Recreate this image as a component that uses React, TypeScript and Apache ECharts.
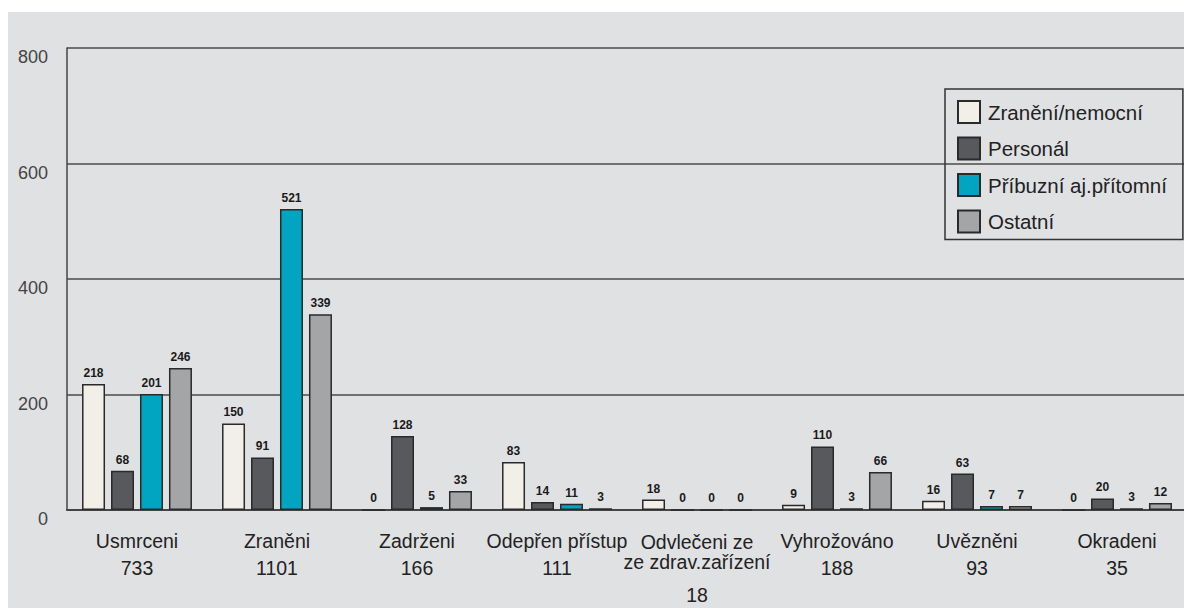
import React, { useEffect, useRef } from "react";
import * as echarts from "echarts";

const categories = [
  "Usmrceni",
  "Zraněni",
  "Zadrženi",
  "Odepřen přístup",
  "Odvlečeni ze\nze zdrav.zařízení",
  "Vyhrožováno",
  "Uvězněni",
  "Okradeni",
];
const totals = [733, 1101, 166, 111, 18, 188, 93, 35];
const seriesNames = ["Zranění/nemocní", "Personál", "Příbuzní aj.přítomní", "Ostatní"];
const zraneniNemocni = [218, 150, 0, 83, 18, 9, 16, 0];
const personal = [68, 91, 128, 14, 0, 110, 63, 20];
const pribuzni = [201, 521, 5, 11, 0, 3, 7, 3];
const ostatni = [246, 339, 33, 3, 0, 66, 7, 12];
const yTicks = [0, 200, 400, 600, 800];

const colors = ["#f1efe7", "#58595c", "#00a6c1", "#a4a5a7"];
const SANS = "'Liberation Sans', Arial, sans-serif";

const labelText = { fontFamily: SANS, fontSize: 19.5, color: "#222" };

export default function App() {
  const ref = useRef<HTMLDivElement>(null);
  useEffect(() => {
    if (!ref.current) return;
    const chart = echarts.init(ref.current, null, { renderer: "svg" });
    const values = [zraneniNemocni, personal, pribuzni, ostatni];
    chart.setOption({
      animation: false,
      backgroundColor: "#e0e1e3",
      grid: { left: 59, right: 1, top: 36, bottom: 98, containLabel: false, outerBoundsMode: "none" },
      legend: {
        orient: "vertical",
        left: 937,
        top: 77,
        padding: [11, 16, 6, 12],
        icon: "rect",
        itemWidth: 22,
        itemHeight: 22,
        itemGap: 12.5,
        borderColor: "#333",
        borderWidth: 1.5,
        selectedMode: false,
        data: seriesNames,
        textStyle: {
          fontFamily: SANS,
          fontSize: 20.5,
          lineHeight: 22,
          color: "#222",
          padding: [0, 0, 0, 3],
        },
      },
      xAxis: {
        type: "category",
        data: categories,
        axisLine: { lineStyle: { color: "#444", width: 2 } },
        axisTick: { inside: true, length: 11, lineStyle: { color: "#444", width: 1.5 } },
        axisLabel: {
          margin: 17,
          interval: 0,
          ...labelText,
          lineHeight: 27,
          formatter: (v: string) => {
            const i = categories.indexOf(v);
            const lines = v.split("\n");
            if (lines.length > 1) {
              return (
                "{o|" + lines[0] + "}\n{z|" + lines.slice(1).join(" ") + "}\n{t|" + totals[i] + "}"
              );
            }
            return v + "\n" + totals[i];
          },
          rich: {
            o: { ...labelText, lineHeight: 30 },
            z: { ...labelText, lineHeight: 10 },
            t: { ...labelText, lineHeight: 56 },
          },
        },
      },
      yAxis: {
        type: "value",
        min: yTicks[0],
        max: yTicks[yTicks.length - 1],
        interval: 200,
        axisLine: { show: true, lineStyle: { color: "#444", width: 1.5 } },
        axisTick: { show: false },
        splitLine: { lineStyle: { color: "#4a4a4a", width: 1.5 } },
        axisLabel: {
          margin: 19,
          fontFamily: SANS,
          fontSize: 18,
          color: "#444",
          verticalAlign: "top",
          lineHeight: 18,
        },
      },
      series: seriesNames.map((name, i) => ({
        name,
        type: "bar",
        data: values[i],
        barWidth: 23,
        barGap: "26%",
        itemStyle: { color: colors[i], borderColor: "#2a2a2a", borderWidth: 1.5 },
        label: {
          show: true,
          position: "top",
          distance: 5,
          fontFamily: SANS,
          fontWeight: "bold",
          fontSize: 12,
          color: "#1a1a1a",
        },
      })),
    });
    return () => chart.dispose();
  }, []);
  return (
    <div
      style={{
        position: "absolute",
        left: 8,
        top: 12,
        width: 1176,
        height: 596,
        overflow: "hidden",
        background: "#e0e1e3",
      }}
    >
      <div ref={ref} style={{ width: 1180, height: 596 }} />
    </div>
  );
}
